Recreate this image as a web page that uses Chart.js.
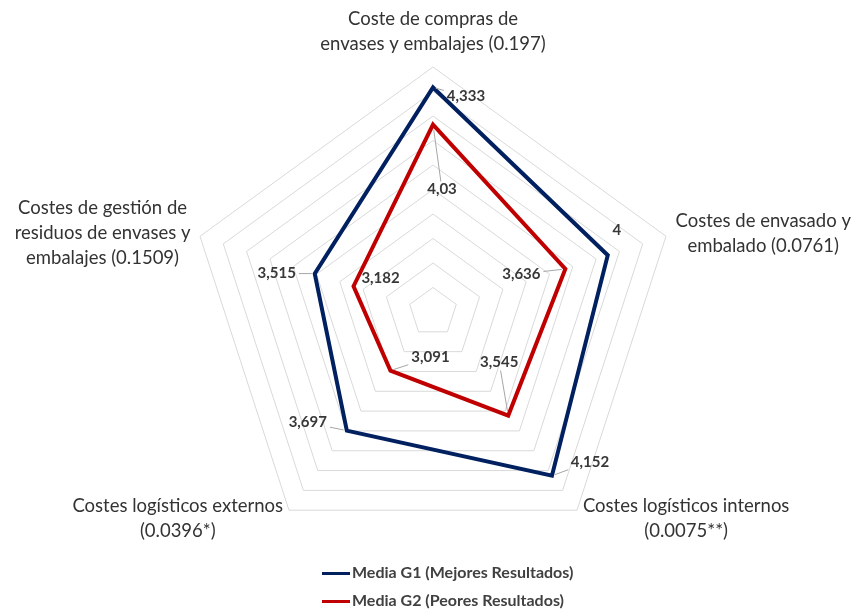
<!DOCTYPE html>
<html>
<head>
<meta charset="utf-8">
<script src="https://cdn.jsdelivr.net/npm/chart.js@4/dist/chart.umd.min.js"></script>
<style>
  html, body { margin: 0; padding: 0; background: #fff; }
  #wrap { position: relative; width: 857px; height: 610px; }
  #legend { position: absolute; left: 322px; top: 561px; font: bold 16px Lato, sans-serif; color: #404040; }
  #legend div { height: 28px; line-height: 22px; white-space: nowrap; }
  #legend span.sw { display: inline-block; width: 28px; height: 3px; vertical-align: middle; margin-right: 2px; }
</style>
</head>
<body>
<div id="wrap">
  <canvas id="radar-chart" width="857" height="610"></canvas>
  <div id="legend"></div>
</div>
<script>
const categories = [
    ['Coste de compras de', 'envases y embalajes (0.197)'],
    ['Costes de envasado y', 'embalado (0.0761)'],
    ['Costes logísticos internos', '(0.0075**)'],
    ['Costes logísticos externos', '(0.0396*)'],
    ['Costes de gestión de', 'residuos de envases y', 'embalajes (0.1509)'],
];
const seriesNames = ['Media G1 (Mejores Resultados)', 'Media G2 (Peores Resultados)'];
const g1Values = [4.333, 4, 4.152, 3.697, 3.515];
const g2Values = [4.03, 3.636, 3.545, 3.091, 3.182];
const scaleMin = 2.5;
const scaleMax = 4.5;
const scaleStep = 0.2;

const colors = ['#002060', '#C00000'];

// where each value label sits relative to its point, and whether a leader line is drawn
const labelOffsets = [
    [[33, 9, true], [9, -25, false], [38, -14, true], [-39, -8, true], [-38, 0, true]],
    [[9, 65, true], [-44, 5, true], [-9, -53, true], [40, -13, true], [27, -8, false]],
];

const radarCtx = document.getElementById('radar-chart');

const valueLabels = {
    id: 'valueLabels',
    afterDatasetsDraw(chart) {
        const ctx = chart.ctx;
        ctx.save();
        ctx.font = 'bold 15px Lato, sans-serif';
        ctx.textAlign = 'center';
        ctx.textBaseline = 'middle';
        chart.data.datasets.forEach((ds, i) => {
            chart.getDatasetMeta(i).data.forEach((pt, j) => {
                const [dx, dy, leader] = labelOffsets[i][j];
                const txt = String(ds.data[j]).replace('.', ',');
                if (leader) {
                    const hw = ctx.measureText(txt).width / 2 + 3, hh = 8;
                    const t = 1 - Math.min(Math.abs(dx) ? hw / Math.abs(dx) : 1, Math.abs(dy) ? hh / Math.abs(dy) : 1);
                    if (t > 0) {
                        ctx.strokeStyle = '#a6a6a6';
                        ctx.lineWidth = 1;
                        ctx.beginPath();
                        ctx.moveTo(pt.x + dx * 0.08, pt.y + dy * 0.08);
                        ctx.lineTo(pt.x + dx * t, pt.y + dy * t);
                        ctx.stroke();
                    }
                }
                ctx.fillStyle = '#383838';
                ctx.fillText(txt, pt.x + dx, pt.y + dy);
            });
        });
        ctx.restore();
    }
};

// axis titles, placed Excel-style next to each spoke end, lines centred
const axisTitles = {
    id: 'axisTitles',
    afterDraw(chart) {
        const scale = chart.scales.r;
        const ctx = chart.ctx;
        const lh = 25;
        const gap = 10;
        ctx.save();
        ctx.font = '18.5px Lato, sans-serif';
        ctx.fillStyle = '#333333';
        ctx.textAlign = 'center';
        ctx.textBaseline = 'middle';
        categories.forEach((lines, i) => {
            const pos = scale.getPointPosition(i, scale.drawingArea + gap);
            const sx = pos.x - scale.xCenter, sy = pos.y - scale.yCenter;
            const w = Math.max(...lines.map(l => ctx.measureText(l).width));
            const h = lh * lines.length;
            let cx, top;
            if (Math.abs(sx) < 1) {
                cx = pos.x;
                top = sy < 0 ? pos.y - h : pos.y;
            } else {
                cx = sx > 0 ? pos.x + w / 2 : pos.x - w / 2;
                top = pos.y - h / 2;
            }
            lines.forEach((line, k) => ctx.fillText(line, cx, top + lh * (k + 0.5)));
        });
        ctx.restore();
    }
};

new Chart(radarCtx, {
    type: 'radar',
    data: {
        labels: categories,
        datasets: [{
            label: seriesNames[0],
            data: g1Values,
            borderColor: colors[0],
            backgroundColor: 'rgba(0,0,0,0)',
            borderWidth: 4,
            pointRadius: 0,
            fill: false,
        }, {
            label: seriesNames[1],
            data: g2Values,
            borderColor: colors[1],
            backgroundColor: 'rgba(0,0,0,0)',
            borderWidth: 4,
            pointRadius: 0,
            fill: false,
        }]
    },
    options: {
        responsive: false,
        animation: false,
        events: [],
        layout: {
            padding: { top: 67, bottom: 53, left: 10, right: 0 }
        },
        elements: {
            line: { tension: 0, borderJoinStyle: 'miter' }
        },
        scales: {
            r: {
                min: scaleMin,
                max: scaleMax,
                ticks: { stepSize: scaleStep, display: false },
                angleLines: { display: false },
                grid: { color: '#d9d9d9', lineWidth: 1 },
                pointLabels: { display: false }
            }
        },
        plugins: {
            legend: { display: false },
            tooltip: { enabled: false }
        }
    },
    plugins: [valueLabels, axisTitles]
});

const legendEl = document.getElementById('legend');
seriesNames.forEach((name, i) => {
    const row = document.createElement('div');
    row.innerHTML = '<span class="sw" style="background:' + colors[i] + '"></span>' + name;
    legendEl.appendChild(row);
});
</script>
</body>
</html>
